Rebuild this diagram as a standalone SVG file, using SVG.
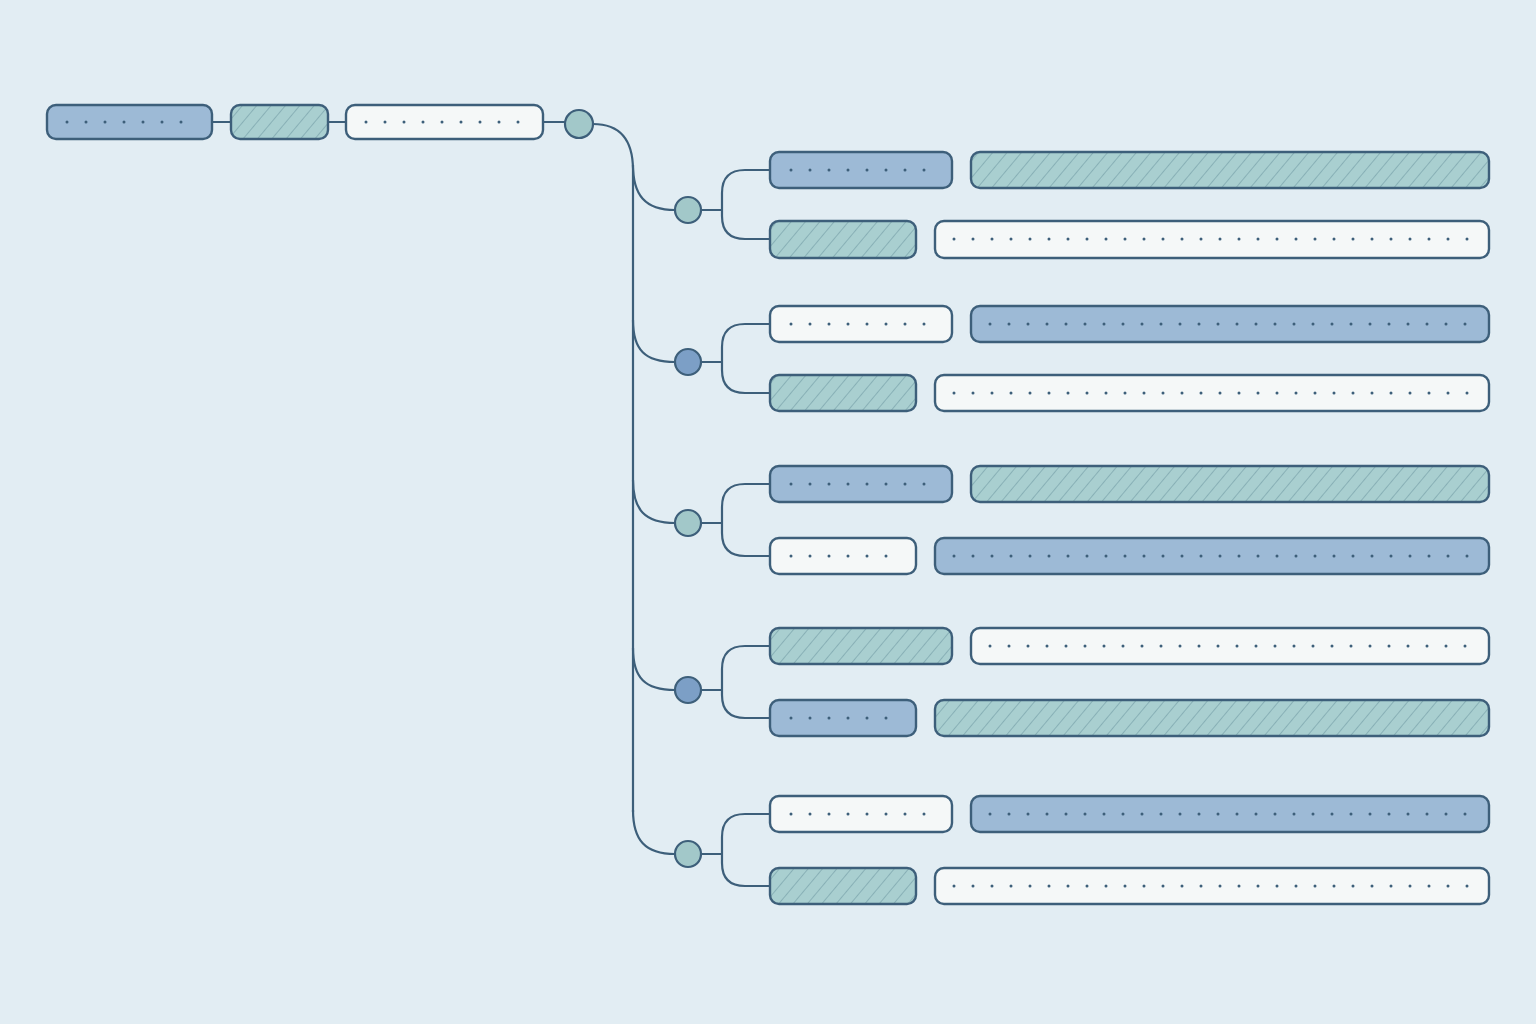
<svg xmlns="http://www.w3.org/2000/svg" width="1536" height="1024" viewBox="0 0 1536 1024">
<defs>
<pattern id="hatch" width="11" height="11" patternUnits="userSpaceOnUse" patternTransform="rotate(40)">
<rect width="11" height="11" fill="#a9cfd0"/>
<line x1="0" y1="0" x2="0" y2="11" stroke="#5f8a96" stroke-width="0.9"/>
</pattern>
<style>
.b{fill:#9dbad6;stroke:#3d5f7a;stroke-width:2.4}
.t{fill:url(#hatch);stroke:#3d5f7a;stroke-width:2.4}
.w{fill:#f5f8f8;stroke:#3d5f7a;stroke-width:2.4}
.d{stroke:#3d5f7a;stroke-width:3;stroke-linecap:round;stroke-dasharray:0 19;fill:none}
.c{stroke:#3d5f7a;stroke-width:2.2;fill:none}
.ct{fill:#a2c8c9;stroke:#3d5f7a;stroke-width:2.2}
.cb{fill:#7c9fc6;stroke:#3d5f7a;stroke-width:2.2}
</style>
</defs>
<rect width="1536" height="1024" fill="#e2edf3"/>
<g id="connectors">
<path class="c" d="M212 122H231M328 122H346M543 122H565"/>
<path class="c" d="M593 124C620 124 633 140 633 170V812"/>
<path class="c" d="M633 165C633 195 645 210 675 210M633 320C633 350 645 362 675 362M633 480C633 510 645 523 675 523M633 648C633 678 645 690 675 690M633 810C633 840 645 854 675 854"/>
<path class="c" d="M701 210H722M770 170H745Q722 170 722 193V216Q722 239 745 239H770"/>
<path class="c" d="M701 362H722M770 324H745Q722 324 722 347V370Q722 393 745 393H770"/>
<path class="c" d="M701 523H722M770 484H745Q722 484 722 507V533Q722 556 745 556H770"/>
<path class="c" d="M701 690H722M770 646H745Q722 646 722 669V695Q722 718 745 718H770"/>
<path class="c" d="M701 854H722M770 814H745Q722 814 722 837V863Q722 886 745 886H770"/>
</g>
<g id="n-top">
<rect class="b" x="47" y="105" width="165" height="34" rx="9"/><path class="d" d="M67 122H200"/>
<rect class="t" x="231" y="105" width="97" height="34" rx="9"/>
<rect class="w" x="346" y="105" width="197" height="34" rx="9"/><path class="d" d="M366 122H530"/>
<circle class="ct" cx="579" cy="124" r="14"/>
</g>
<g id="g1">
<circle class="ct" cx="688" cy="210" r="13"/>
<rect class="b" x="770" y="152" width="182" height="36" rx="9"/><path class="d" d="M791 170H940"/>
<rect class="t" x="971" y="152" width="518" height="36" rx="9"/>
<rect class="t" x="770" y="221" width="146" height="37" rx="9"/>
<rect class="w" x="935" y="221" width="554" height="37" rx="9"/><path class="d" d="M954 239H1475"/>
</g>
<g id="g2">
<circle class="cb" cx="688" cy="362" r="13"/>
<rect class="w" x="770" y="306" width="182" height="36" rx="9"/><path class="d" d="M791 324H940"/>
<rect class="b" x="971" y="306" width="518" height="36" rx="9"/><path class="d" d="M990 324H1475"/>
<rect class="t" x="770" y="375" width="146" height="36" rx="9"/>
<rect class="w" x="935" y="375" width="554" height="36" rx="9"/><path class="d" d="M954 393H1475"/>
</g>
<g id="g3">
<circle class="ct" cx="688" cy="523" r="13"/>
<rect class="b" x="770" y="466" width="182" height="36" rx="9"/><path class="d" d="M791 484H940"/>
<rect class="t" x="971" y="466" width="518" height="36" rx="9"/>
<rect class="w" x="770" y="538" width="146" height="36" rx="9"/><path class="d" d="M791 556H900"/>
<rect class="b" x="935" y="538" width="554" height="36" rx="9"/><path class="d" d="M954 556H1475"/>
</g>
<g id="g4">
<circle class="cb" cx="688" cy="690" r="13"/>
<rect class="t" x="770" y="628" width="182" height="36" rx="9"/>
<rect class="w" x="971" y="628" width="518" height="36" rx="9"/><path class="d" d="M990 646H1475"/>
<rect class="b" x="770" y="700" width="146" height="36" rx="9"/><path class="d" d="M791 718H900"/>
<rect class="t" x="935" y="700" width="554" height="36" rx="9"/>
</g>
<g id="g5">
<circle class="ct" cx="688" cy="854" r="13"/>
<rect class="w" x="770" y="796" width="182" height="36" rx="9"/><path class="d" d="M791 814H940"/>
<rect class="b" x="971" y="796" width="518" height="36" rx="9"/><path class="d" d="M990 814H1475"/>
<rect class="t" x="770" y="868" width="146" height="36" rx="9"/>
<rect class="w" x="935" y="868" width="554" height="36" rx="9"/><path class="d" d="M954 886H1475"/>
</g>
</svg>
